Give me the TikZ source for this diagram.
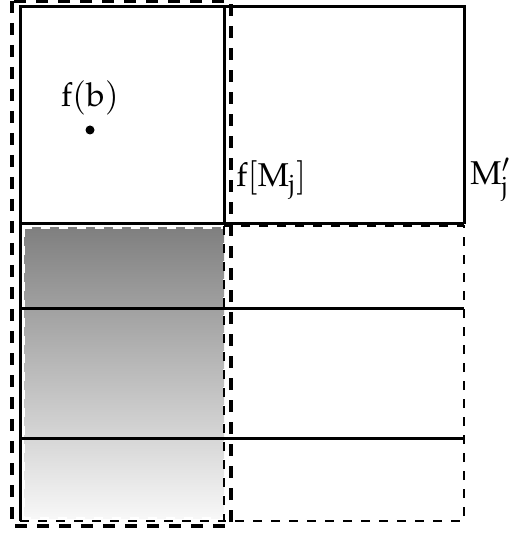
\documentclass[tikz,border=0pt]{standalone}
\usepackage{mathpazo}
\begin{document}
\begin{tikzpicture}[x=0.5pt,y=-0.5pt,
  solidline/.style={line width=1.5pt},
  bigdash/.style={line width=1.6pt, dash pattern=on 6pt off 5pt},
  smalldash/.style={line width=1.1pt, dash pattern=on 4.5pt off 4.5pt},
  lbl/.style={font=\fontsize{16.5}{19}\selectfont, inner sep=0pt}]
\useasboundingbox (0,0) rectangle (522,533);
\shade[top color=black!50,bottom color=black!3] (24,228) rectangle (224,518);
\draw[white,line width=0.8pt,dash pattern=on 4.5pt off 4.5pt] (24,228) rectangle (224,518);
\draw[smalldash] (224,226) rectangle (464,521);
\draw[smalldash] (20,521) -- (224,521);
\draw[solidline] (20,521) -- (20,7) -- (464,7) -- (464,224);
\draw[solidline] (224,7) -- (224,224);
\draw[solidline] (20,224) -- (464,224);
\draw[solidline] (20,308) -- (464,308);
\draw[solidline] (20,438) -- (464,438);
\draw[bigdash] (12,1) rectangle (231,526);
\node[lbl] (fb) at (90,98) {$\mathrm{f}(\mathrm{b})$};
\node[circle, fill, inner sep=0pt, minimum size=4.5pt] (pt) at (90,130) {};
\node[lbl,anchor=west] (fM) at (236,180) {$\mathrm{f}[\mathrm{M}_{\mathrm{j}}]$};
\node[lbl,anchor=west] (Mp) at (470,180) {$\mathrm{M}'_{\mathrm{j}}$};
\end{tikzpicture}
\end{document}
